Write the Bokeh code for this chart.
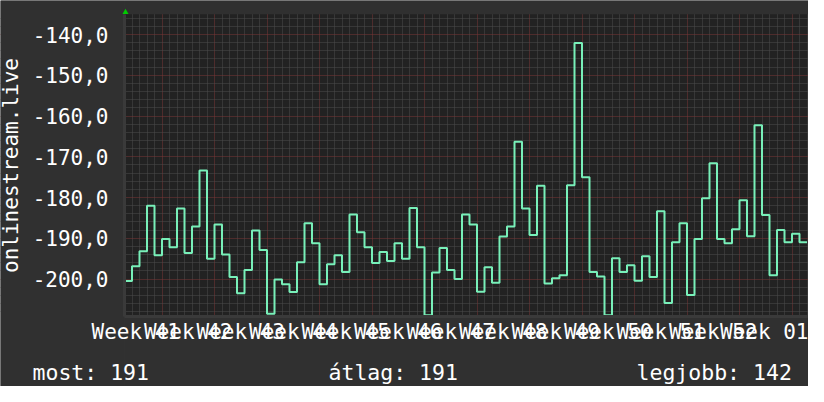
from bokeh.plotting import figure
from bokeh.models import Range1d, FixedTicker
from bokeh.core.properties import value
from bokeh.embed import file_html
from bokeh.resources import INLINE

# daily values (negated rank), first one is the day before the window
rank = [-191.0,
        -200.5, -196.9, -193.2, -182.0, -194.2, -190.2, -192.2, -182.7, -193.6, -187.1,
        -173.4, -195.0, -186.6, -194.0, -199.5, -203.5, -197.8, -188.1, -192.9, -208.5,
        -200.1, -201.3, -203.2, -195.9, -186.3, -191.2, -201.3, -196.4, -194.2, -198.3,
        -184.2, -188.5, -192.2, -196.1, -193.4, -195.6, -191.2, -195.0, -182.6, -192.2,
        -208.9, -198.4, -192.4, -197.8, -200.0, -184.2, -186.6, -203.1, -197.1, -200.9,
        -189.6, -187.1, -166.3, -182.7, -189.2, -177.1, -201.1, -199.8, -199.1, -177.0,
        -142.1, -175.0, -198.3, -199.4, -208.9, -194.9, -198.3, -196.6, -200.4, -194.4,
        -199.5, -183.4, -205.9, -191.0, -186.3, -203.9, -190.2, -180.2, -171.6, -190.2,
        -191.2, -187.8, -180.7, -189.5, -162.3, -184.3, -199.1, -188.0, -191.0, -188.9,
        -191.0]
days = list(range(-1, len(rank) - 1))

week_labels = ["Week 41", "Week 42", "Week 43", "Week 44", "Week 45", "Week 46", "Week 47",
               "Week 48", "Week 49", "Week 50", "Week 51", "Week 52", "Week 01"]
y_ticks = [-200, -190, -180, -170, -160, -150, -140]

stat_names = ["most", "átlag", "legjobb"]
stat_values = [191, 191, 142]

FONT = "DejaVu Sans Mono"
BG = "#303030"
PLOT_BG = "#222222"
ARROW = "#00cc00"
W, H = 808, 386

# scale: the frame fills the whole figure
PX_X = 7.5          # pixels per day
PX_Y = 4.075        # pixels per unit
LEFT_PX = 124       # where day 0 sits
Y140_PX = 34        # where -140 sits


def px2x(px):
    return (px - LEFT_PX) / PX_X


def py2y(py):
    return -140 + (Y140_PX - py) / PX_Y


XA, XB = px2x(0), px2x(W)
YT, YB = py2y(0), py2y(H)

# plot window in data units
X0, X1 = 0.0, 91.333
Y0, Y1 = -209.2, -135.0

xs = days + [days[-1] + 1]
ys = rank + [rank[-1]]

p = figure(width=W, height=H, output_backend="svg", toolbar_location=None,
           x_range=Range1d(XA, XB), y_range=Range1d(YB, YT),
           min_border_left=0, min_border_right=0, min_border_top=0, min_border_bottom=0)
p.background_fill_color = PLOT_BG
p.border_fill_color = BG
p.outline_line_color = None

week_lines = [5 + 7 * i for i in range(13)]
day_lines = [d for d in range(0, 92) if d not in week_lines]
p.xgrid.ticker = FixedTicker(ticks=week_lines, minor_ticks=day_lines)
p.ygrid.ticker = FixedTicker(ticks=y_ticks,
                             minor_ticks=[v for v in range(-208, -134, 2) if v % 10 != 0])
for g in (p.xgrid, p.ygrid):
    g.grid_line_color = "#7a3636"
    g.grid_line_dash = "1 1"
    g.grid_line_width = 1
    g.minor_grid_line_color = "#4c4c4c"
    g.minor_grid_line_dash = "1 1"
    g.minor_grid_line_width = 1

label_pos = [1.5 + 7 * i for i in range(len(week_labels))]
p.xaxis.ticker = FixedTicker(ticks=label_pos)
p.xaxis.major_label_overrides = dict(zip(label_pos, week_labels))
p.xaxis.fixed_location = Y0
p.xaxis.bounds = (X0, X1)
p.yaxis.ticker = FixedTicker(ticks=y_ticks)
p.yaxis.major_label_overrides = {v: f"{v:.1f}".replace(".", ",") for v in y_ticks}
p.yaxis.fixed_location = X0
p.yaxis.bounds = (Y0, Y1)

for ax in (p.xaxis, p.yaxis):
    ax.major_tick_in = 0
    ax.major_tick_out = 0
    ax.minor_tick_in = 0
    ax.minor_tick_out = 0
    ax.axis_line_color = "#3a3a3a"
    ax.axis_line_width = 3
    ax.major_label_text_font = FONT
    ax.major_label_text_font_size = "21px"
    ax.major_label_text_color = "#ffffff"
p.xaxis.major_label_standoff = 4
p.yaxis.major_label_standoff = 16
p.yaxis.axis_label = "onlinestream.live"
p.yaxis.axis_label_text_font = FONT
p.yaxis.axis_label_text_font_size = "21px"
p.yaxis.axis_label_text_font_style = "normal"
p.yaxis.axis_label_text_color = "#ffffff"
p.yaxis.axis_label_standoff = 7

p.step(xs, ys, mode="after", line_color="#78f0b9", line_width=2)

# canvas-coloured areas around the plot window (left, top, bottom)
p.quad(left=[XA, X0, X0], right=[X0, XB, XB],
       bottom=[YB, Y1, YB], top=[YT, YT, Y0],
       fill_color=BG, line_color=None)

# arrow at the top of the y axis
p.scatter(x=[px2x(125)], y=[py2y(11.8)], marker="triangle", size=6,
          fill_color=ARROW, line_color=None)

# statistics line
p.text(x=[px2x(32), px2x(328), px2x(636)], y=[py2y(372)] * 3,
       text=[f"{n}: {v}" for n, v in zip(stat_names, stat_values)],
       text_font=value(FONT), text_font_size=value("21.5px"), text_color="#ffffff",
       text_baseline="alphabetic", text_align="left")

html = file_html(p, INLINE)
html = html.replace("<body>", '<body style="background-color:#303030;">', 1)
open("out.html", "w").write(html)
